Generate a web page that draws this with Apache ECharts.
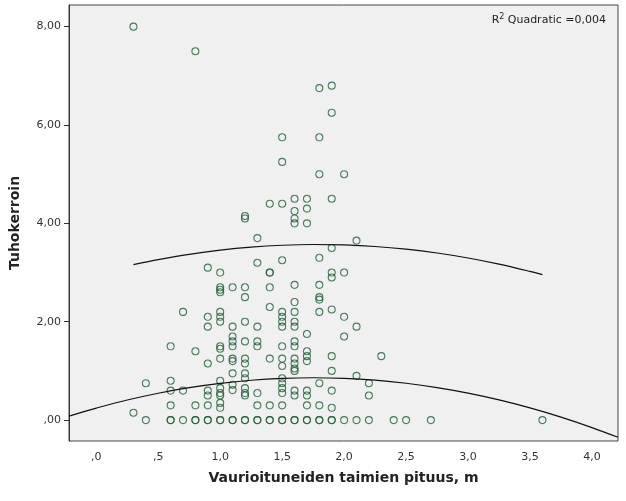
<!DOCTYPE html>
<html>
<head>
<meta charset="utf-8">
<script src="https://cdn.jsdelivr.net/npm/echarts@6/dist/echarts.min.js"></script>
<style>
html,body{margin:0;padding:0;background:#fff;}
#chart{width:626px;height:501px;}
</style>
</head>
<body>
<div id="chart"></div>
<script>
// Seedling height columns (m) and the damage coefficients observed at each height
const heights = [0.3, 0.4, 0.6, 0.7, 0.8, 0.9, 1.0, 1.1, 1.2, 1.3, 1.4, 1.5, 1.6, 1.7, 1.8, 1.9, 2.0, 2.1, 2.2, 2.3, 2.4, 2.5, 2.7, 3.6];
const damageByHeight = [
  [8.0, 0.15],
  [0.75, 0],
  [1.5, 0.8, 0.6, 0.3, 0, 0],
  [2.2, 0.6, 0],
  [7.5, 1.4, 0.3, 0, 0],
  [3.1, 2.1, 1.9, 1.15, 0.6, 0.5, 0.3, 0, 0],
  [3.0, 2.7, 2.65, 2.6, 2.2, 2.1, 2.0, 1.5, 1.45, 1.25, 0.8, 0.65, 0.55, 0.5, 0.35, 0.25, 0, 0],
  [2.7, 1.9, 1.7, 1.6, 1.5, 1.25, 1.2, 0.95, 0.72, 0.61, 0, 0],
  [4.15, 4.1, 2.7, 2.5, 2.0, 1.6, 1.25, 1.15, 0.95, 0.85, 0.65, 0.55, 0.5, 0, 0],
  [3.7, 3.2, 1.9, 1.6, 1.5, 0.55, 0.3, 0, 0],
  [4.4, 3.0, 3.0, 2.7, 2.3, 1.25, 0.3, 0, 0],
  [5.75, 5.25, 4.4, 3.25, 2.2, 2.1, 2.0, 1.9, 1.5, 1.25, 1.1, 0.85, 0.75, 0.65, 0.55, 0.3, 0, 0],
  [4.5, 4.25, 4.1, 4.0, 2.75, 2.4, 2.2, 2.0, 1.9, 1.6, 1.5, 1.25, 1.15, 1.05, 1.0, 0.6, 0.5, 0, 0],
  [4.5, 4.3, 4.0, 1.75, 1.4, 1.3, 1.2, 0.6, 0.5, 0.3, 0, 0],
  [6.75, 5.75, 5.0, 3.3, 2.75, 2.5, 2.45, 2.2, 0.75, 0.3, 0, 0],
  [6.8, 6.25, 4.5, 3.5, 3.0, 2.9, 2.25, 1.3, 1.0, 0.6, 0.25, 0, 0],
  [5.0, 3.0, 2.1, 1.7, 0],
  [3.65, 1.9, 0.9, 0],
  [0.75, 0.5, 0],
  [1.3],
  [0],
  [0],
  [0],
  [0]
];

// Fit curves
const lowerCurveX = [-0.22, -0.1, 0, 0.25, 0.5, 0.75, 1.0, 1.25, 1.5, 1.75, 2.0, 2.25, 2.5, 2.75, 3.0, 3.25, 3.5, 3.75, 4.0, 4.21];
const lowerCurveY = [0.08, 0.172, 0.244, 0.408, 0.546, 0.659, 0.747, 0.810, 0.848, 0.861, 0.848, 0.811, 0.749, 0.661, 0.549, 0.411, 0.249, 0.061, -0.152, -0.35];
const upperCurveX = [0.3, 0.5, 0.75, 1.0, 1.25, 1.5, 1.75, 2.0, 2.25, 2.5, 2.75, 3.0, 3.25, 3.5, 3.6];
const upperCurveY = [3.16, 3.262, 3.37, 3.455, 3.517, 3.555, 3.57, 3.561, 3.53, 3.475, 3.397, 3.296, 3.171, 3.023, 2.958];

const xTicks = [0, 0.5, 1.0, 1.5, 2.0, 2.5, 3.0, 3.5, 4.0];
const yTicks = [0, 2, 4, 6, 8];

const xTitle = 'Vaurioituneiden taimien pituus, m';
const yTitle = 'Tuhokerroin';
const fitLabel = 'Quadratic =0,004';

const points = [];
heights.forEach((h, i) => damageByHeight[i].forEach(v => points.push([h, v])));
const lowerData = lowerCurveX.map((x, i) => [x, lowerCurveY[i]]);
const upperData = upperCurveX.map((x, i) => [x, upperCurveY[i]]);

const fmtX = v => v.toFixed(1).replace('.', ',').replace(/^0,/, ',');
const fmtY = v => v.toFixed(2).replace('.', ',').replace(/^0,/, ',');

const chart = echarts.init(document.getElementById('chart'), null, {renderer: 'canvas'});
chart.setOption({
  animation: false,
  backgroundColor: '#ffffff',
  textStyle: {fontFamily: 'DejaVu Sans'},
  grid: {left: 69, right: 8, top: 5, bottom: 60, show: true, backgroundColor: '#f0f0f0', borderColor: '#444', borderWidth: 1},
  xAxis: {
    type: 'value', min: -0.22, max: 4.21,
    name: xTitle, nameLocation: 'middle', nameGap: 30,
    nameTextStyle: {fontFamily: 'DejaVu Sans', fontWeight: 'bold', fontSize: 14, color: '#222'},
    axisLine: {show: false, onZero: false},
    axisTick: {show: false, customValues: xTicks},
    splitLine: {show: false},
    axisLabel: {customValues: xTicks, formatter: fmtX, fontSize: 11, color: '#333', margin: 11}
  },
  yAxis: {
    type: 'value', min: -0.425, max: 8.44,
    name: yTitle, nameLocation: 'middle', nameGap: 47, nameRotate: 90,
    nameTextStyle: {fontFamily: 'DejaVu Sans', fontWeight: 'bold', fontSize: 14, color: '#222'},
    axisLine: {show: true, onZero: false, lineStyle: {color: '#333'}},
    axisTick: {show: true, length: 5, customValues: yTicks, lineStyle: {color: '#333'}},
    splitLine: {show: false},
    axisLabel: {customValues: yTicks, formatter: fmtY, fontSize: 11, color: '#333', margin: 8}
  },
  graphic: [{
    type: 'text', right: 20, top: 13,
    style: {
      text: '{r|R}{s|2} {t|' + fitLabel + '}',
      rich: {
        r: {fontSize: 11, fontFamily: 'DejaVu Sans', fill: '#222'},
        s: {fontSize: 8, fontFamily: 'DejaVu Sans', fill: '#222', verticalAlign: 'top', padding: [0, 0, 6, 0]},
        t: {fontSize: 11, fontFamily: 'DejaVu Sans', fill: '#222'}
      }
    }
  }],
  series: [
    {
      type: 'scatter', data: points, symbol: 'circle', symbolSize: 7,
      itemStyle: {color: 'rgba(0,0,0,0)', borderColor: '#215f36', borderWidth: 1.1},
      emphasis: {disabled: true}, silent: true
    },
    {
      type: 'line', data: lowerData, showSymbol: false, smooth: 0.3,
      lineStyle: {color: '#111', width: 1.2}, silent: true
    },
    {
      type: 'line', data: upperData, showSymbol: false, smooth: 0.3,
      lineStyle: {color: '#111', width: 1.2}, silent: true
    }
  ]
});
</script>
</body>
</html>
